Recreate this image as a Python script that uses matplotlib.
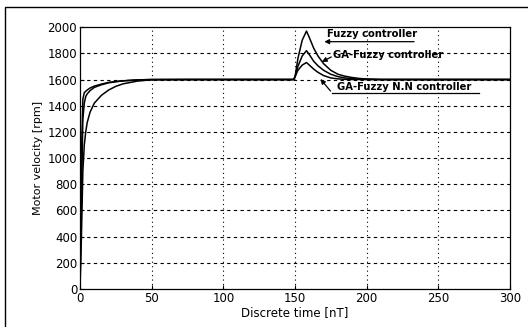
#!/usr/bin/env python3
"""Motor velocity response of three controllers (fuzzy, GA-fuzzy, GA-fuzzy N.N)."""

import matplotlib
matplotlib.use('Agg')
import matplotlib.pyplot as plt
from matplotlib.patches import Rectangle

# ---- data ----
time_nt = [0, 1, 2, 3, 4, 5, 7, 10, 15, 20, 25, 30, 40, 50, 75, 100, 125, 149,
           150, 152, 155, 158, 160, 163, 166, 170, 175, 180, 185, 190, 195, 200,
           210, 250, 300]

fuzzy = [0, 1000, 1450, 1500, 1510, 1520, 1535, 1550, 1565, 1578, 1585, 1590,
         1597, 1600, 1600, 1600, 1600, 1600,
         1620, 1760, 1900, 1970, 1920, 1840, 1780, 1720, 1670, 1640, 1625, 1615,
         1608, 1604, 1600, 1600, 1600]

ga_fuzzy = [0, 700, 1300, 1420, 1470, 1490, 1515, 1540, 1560, 1575, 1583, 1590,
            1597, 1600, 1600, 1600, 1600, 1600,
            1620, 1700, 1780, 1820, 1790, 1740, 1705, 1670, 1640, 1622, 1612,
            1606, 1603, 1601, 1600, 1600, 1600]

ga_fuzzy_nn = [0, 400, 900, 1100, 1200, 1270, 1350, 1420, 1480, 1520, 1548, 1567,
               1588, 1598, 1600, 1600, 1600, 1600,
               1620, 1670, 1710, 1730, 1710, 1680, 1655, 1630, 1612, 1605, 1601,
               1600, 1600, 1600, 1600, 1600, 1600]

x_ticks = [0, 50, 100, 150, 200, 250, 300]
y_ticks = [0, 200, 400, 600, 800, 1000, 1200, 1400, 1600, 1800, 2000]

plt.rcParams['font.family'] = ['DejaVu Sans']

fig = plt.figure(figsize=(5.28, 3.27), dpi=100)
ax = fig.add_axes([0.1515, 0.116, 0.8145, 0.801])

ax.plot(time_nt, fuzzy, color='black', linewidth=1.1)
ax.plot(time_nt, ga_fuzzy, color='black', linewidth=1.1)
ax.plot(time_nt, ga_fuzzy_nn, color='black', linewidth=1.1)

ax.set_xlim(0, 300)
ax.set_ylim(0, 2000)
ax.set_xticks(x_ticks)
ax.set_yticks(y_ticks)
ax.tick_params(direction='in', length=3, labelsize=8.5, pad=2)

# MATLAB-ish grid: dashed horizontals, dotted verticals
for y in y_ticks[1:-1]:
    ax.axhline(y, color='black', linewidth=0.8, linestyle=(0, (3, 3)), zorder=0)
for x in x_ticks[1:-1]:
    ax.axvline(x, color='black', linewidth=0.8, linestyle=(0, (1, 3)), zorder=0)

for s in ax.spines.values():
    s.set_linewidth(0.9)

ax.set_xlabel('Discrete time [nT]', fontsize=8.5, labelpad=1)
ax.set_ylabel('Motor velocity [rpm]', fontsize=8, labelpad=3)

# ---- annotations ----
arrow = dict(arrowstyle='-|>', color='black', linewidth=0.9, mutation_scale=7)

ax.annotate('', xy=(168.5, 1889), xytext=(235, 1889), arrowprops=arrow)
ax.text(172, 1950, 'Fuzzy controller', fontsize=7.2, fontweight='bold',
        va='center', ha='left')

ax.annotate('', xy=(167, 1725), xytext=(177, 1782), arrowprops=arrow)
ax.text(176.5, 1786, 'GA-Fuzzy controller', fontsize=7.2, fontweight='bold',
        va='center', ha='left')

ax.annotate('', xy=(166.5, 1620), xytext=(176, 1496), arrowprops=arrow)
ax.plot([176, 278], [1496, 1496], color='black', linewidth=0.9)
ax.text(179, 1545, 'GA-Fuzzy N.N controller', fontsize=7.2, fontweight='bold',
        va='center', ha='left')

# outer frame of the scanned figure
fig.patches.append(Rectangle((0.0095, -0.05), 1.2, 1.029, transform=fig.transFigure,
                             fill=False, edgecolor='black', linewidth=1.0))

fig.savefig('out.png', dpi=100)
